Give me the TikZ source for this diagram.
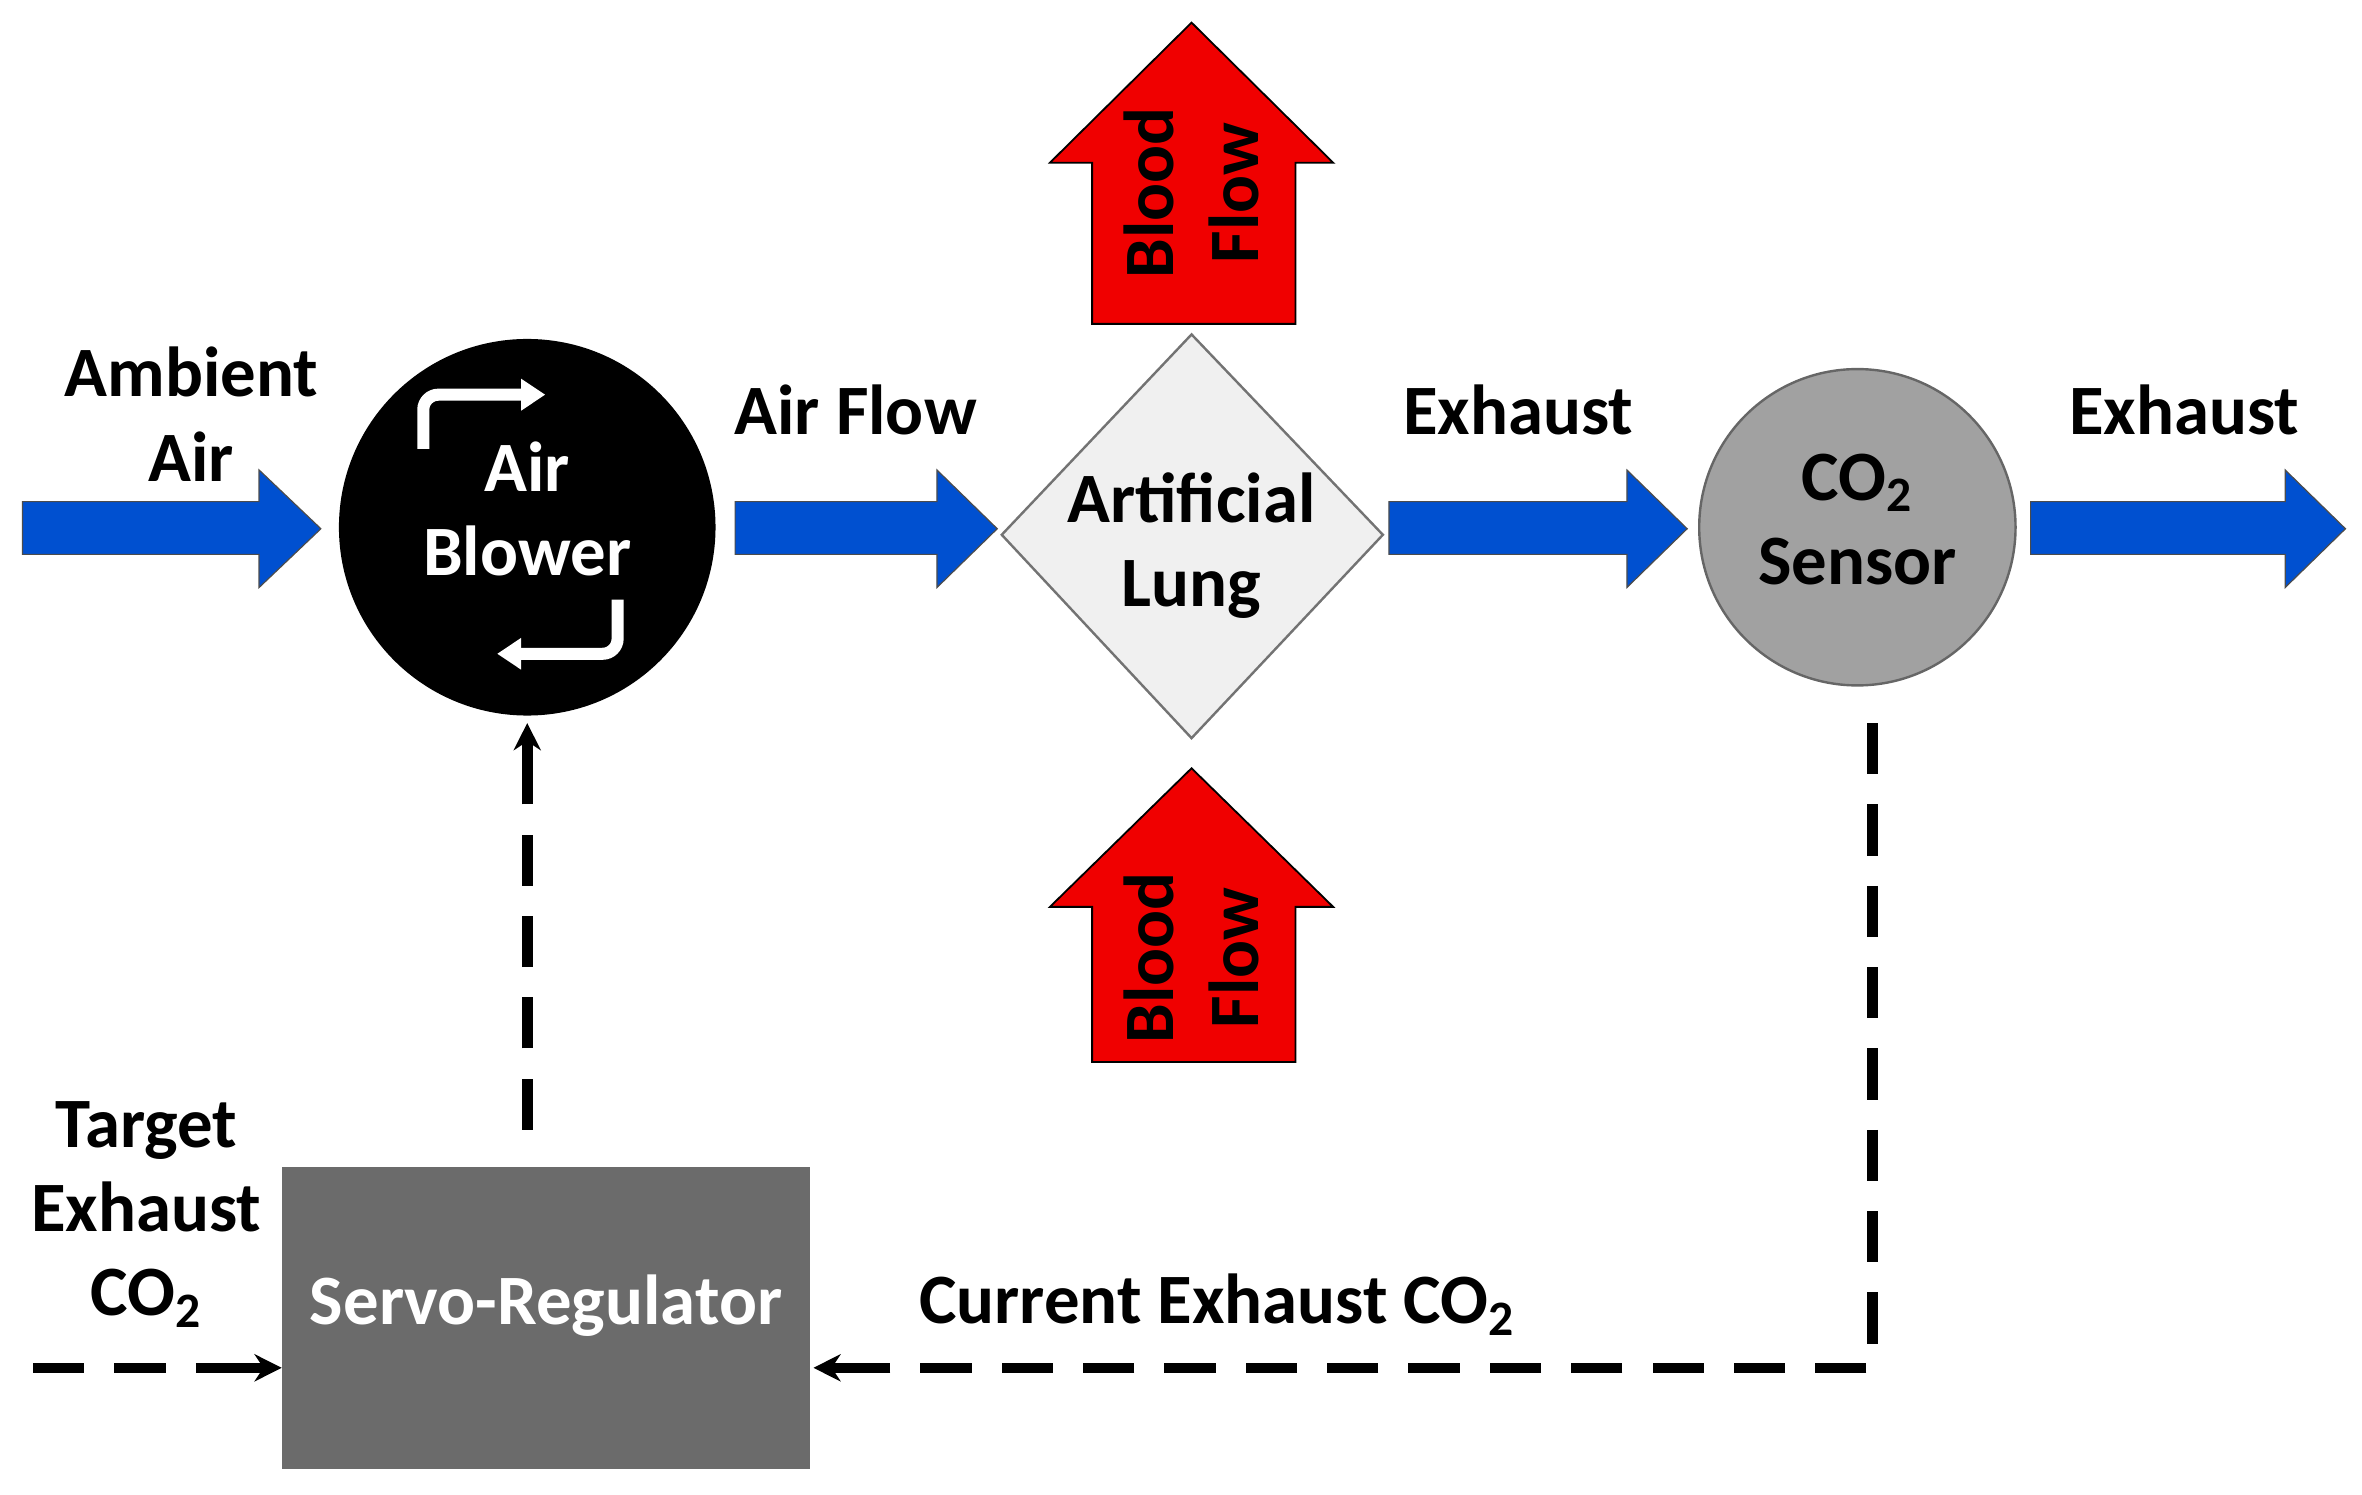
\documentclass[tikz,border=0pt]{standalone}
\usepackage{fontspec}
\setmainfont{Carlito}
\usetikzlibrary{arrows.meta}
\definecolor{bblue}{HTML}{0050D0}
\definecolor{rred}{HTML}{F00000}
\begin{document}
\begin{tikzpicture}[x=0.5pt,y=-0.5pt,
 lbl/.style={font=\fontsize{23.5}{28}\selectfont\bfseries,align=center,inner sep=0},
 barrow/.style={fill=bblue,draw=black!70,line width=0.4pt},
 rarrow/.style={fill=rred,draw=black,line width=0.6pt},
 dsh/.style={line width=3.5pt,dash pattern=on 17pt off 10pt},
 tip/.style={-{Stealth[length=9pt,width=9pt]}}]
\useasboundingbox (0,0) rectangle (1568,992);
% blue arrows
\foreach \a/\h/\b in {15/172/213,488/622/662,922/1080/1120,1348/1517/1557}{
 \draw[barrow] (\a,333) -- (\h,333) -- (\h,312) -- (\b,351) -- (\h,390) -- (\h,368) -- (\a,368) -- cycle;}
% red arrows
\foreach \bot/\hb/\tp/\ty in {215/108/15/128,705/602/510/636}{
 \draw[rarrow] (725,\bot) -- (725,\hb) -- (697,\hb) -- (791,\tp) -- (885,\hb) -- (860,\hb) -- (860,\bot) -- cycle;
 \node[lbl,rotate=90] at (791,\ty) {Blood\\Flow};}
% blower
\node[circle,fill=black,minimum size=125pt,inner sep=0] (blower) at (350,350) {};
\node[lbl,text=white] at (350,338) {Air\\Blower};
\draw[white,line width=4pt,rounded corners=5pt,-{Triangle[length=8pt,width=10pt]}] (281,298) -- (281,262) -- (362,262);
\draw[white,line width=4pt,rounded corners=5pt,-{Triangle[length=8pt,width=10pt]}] (410,398) -- (410,434) -- (330,434);
% lung
\draw[fill=black!6,draw=black!55,line width=0.8pt] (665,355) -- (791,222) -- (918,355) -- (791,490) -- cycle;
\node[lbl] (lung) at (791,362) {Artificial\\Lung};
% sensor
\node[circle,fill=black!37,draw=black!60,line width=0.8pt,minimum size=105pt,inner sep=0] (sensor) at (1233,350) {};
\node[lbl] at (1233,345) {CO\textsubscript{2}\\Sensor};
% servo
\node[fill=black!58,minimum width=175.5pt,minimum height=100pt,inner sep=0] (servo) at (362.5,875) {};
\node[lbl,text=white] at (362.5,867) {Servo-Regulator};
% labels
\node[lbl] at (127,275) {Ambient\\Air};
\node[lbl] at (568,272) {Air Flow};
\node[lbl] at (1008,272) {Exhaust};
\node[lbl] at (1450,272) {Exhaust};
\node[lbl] at (97,806) {Target\\Exhaust\\CO\textsubscript{2}};
\node[lbl] at (808,866) {Current Exhaust CO\textsubscript{2}};
% dashed
\coordinate (s0) at (350,750);
\coordinate (t0) at (22,908);
\coordinate (c0) at (1243,480);
\coordinate (c1) at (1243,908);
\draw[dsh] (s0) -- (350,500);
\draw[line width=3.5pt,tip] (350,505) -- (350,480);
\draw[dsh] (t0) -- (165,908);
\draw[line width=3.5pt,tip] (160,908) -- (187,908);
\draw[dsh] (c0) -- (c1) -- (565,908);
\draw[line width=3.5pt,tip] (570,908) -- (540,908);
\end{tikzpicture}
\end{document}
